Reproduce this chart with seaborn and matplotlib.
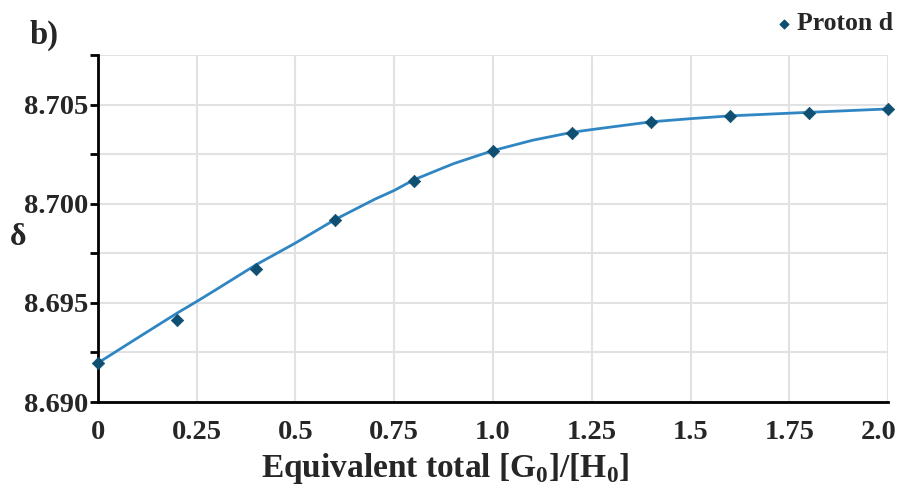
import matplotlib
matplotlib.use("Agg")
import matplotlib.pyplot as plt
import matplotlib.transforms as mtransforms
import seaborn as sns
import pandas as pd
from matplotlib.ticker import MultipleLocator, FixedLocator

# ---- data ----
eq_obs = [0.0, 0.2, 0.4, 0.6, 0.8, 1.0, 1.2, 1.4, 1.6, 1.8, 2.0]
delta_obs = [8.69197, 8.69414, 8.69672, 8.69919, 8.70116, 8.70268,
             8.70359, 8.70414, 8.70444, 8.70460, 8.70480]

eq_fit = [0.0, 0.1, 0.2, 0.25, 0.3, 0.4, 0.5, 0.6, 0.7, 0.75, 0.8, 0.9,
          1.0, 1.1, 1.2, 1.25, 1.4, 1.5, 1.6, 1.8, 2.0]
delta_fit = [8.69197, 8.69323, 8.69448, 8.69507, 8.69568, 8.69692, 8.69802,
             8.69920, 8.70022, 8.70067, 8.70121, 8.70202, 8.70268, 8.70320,
             8.70360, 8.70374, 8.70413, 8.70429, 8.70443, 8.70461, 8.70478]

x_ticks = [0, 0.25, 0.5, 0.75, 1.0, 1.25, 1.5, 1.75, 2.0]
x_tick_labels = ["0", "0.25", "0.5", "0.75", "1.0", "1.25", "1.5", "1.75", "2.0"]
y_ticks = [8.690, 8.695, 8.700, 8.705]
y_tick_labels = ["8.690", "8.695", "8.700", "8.705"]
series_name = "Proton d"

sns.set_theme(style="white")
plt.rcParams["font.family"] = ["Liberation Serif", "DejaVu Serif"]
plt.rcParams["font.weight"] = "bold"
plt.rcParams["mathtext.fontset"] = "custom"
plt.rcParams["mathtext.rm"] = "Liberation Serif:bold"
plt.rcParams["mathtext.bf"] = "Liberation Serif:bold"

fig = plt.figure(figsize=(9.03, 4.92), dpi=100)
ax = fig.add_axes([0.1085, 0.1829, 0.9834 - 0.1085, 0.8882 - 0.1829])

line_color = "#2f86c3"
marker_color = "#0f4f72"

df_fit = pd.DataFrame({"x": eq_fit, "y": delta_fit})
df_obs = pd.DataFrame({"x": eq_obs, "y": delta_obs})
sns.lineplot(data=df_fit, x="x", y="y", ax=ax, color=line_color, lw=2.0,
             zorder=3, legend=False)
sns.scatterplot(data=df_obs, x="x", y="y", ax=ax, color=marker_color,
                marker="D", s=40, edgecolor=marker_color, linewidth=0.5,
                zorder=4, legend=False, clip_on=False)

ax.set_xlim(0, 2.0)
ax.set_ylim(8.690, 8.7075)
ax.xaxis.set_major_locator(FixedLocator(x_ticks))
ax.set_xticklabels(x_tick_labels)
ax.yaxis.set_major_locator(FixedLocator(y_ticks))
ax.set_yticklabels(y_tick_labels)
ax.yaxis.set_minor_locator(MultipleLocator(0.0025))

ax.grid(True, which="both", axis="both", color="#e2e2e2", lw=1.5)
ax.set_axisbelow(True)

for s in ["top", "right"]:
    ax.spines[s].set_visible(False)
for s in ["left", "bottom"]:
    ax.spines[s].set_color("black")
    ax.spines[s].set_linewidth(2.0)

ax.tick_params(axis="x", which="major", direction="out", length=8, width=2,
               color="black", labelsize=20.5, pad=5)
ax.tick_params(axis="y", which="both", direction="out", length=6, width=2,
               color="black", labelsize=20.5, pad=1, left=True)
ax.tick_params(axis="x", which="minor", length=0)
for lab in ax.get_xticklabels() + ax.get_yticklabels():
    lab.set_fontweight("bold")

# keep the last x tick label inside the figure, as in the reference
last = ax.get_xticklabels()[-1]
last.set_transform(last.get_transform() +
                   mtransforms.ScaledTranslation(-9 / 100, 0, fig.dpi_scale_trans))

ax.set_xlabel("Equivalent total [G$_\\mathrm{0}$]/[H$_\\mathrm{0}$]",
              fontsize=24, fontweight="bold")
ax.xaxis.set_label_coords((445 - 98) / 790, -0.142)
ax.set_ylabel("")
fig.text(0.02, 0.518, "δ", fontsize=23, fontweight="bold", ha="center", va="center")
fig.text(0.033, 0.929, "b)", fontsize=23.5, fontweight="bold", ha="left", va="center")

# legend
ax.scatter([], [], marker="D", s=30, color=marker_color, label=series_name)
fig.legend(*ax.get_legend_handles_labels(), loc="center right",
           bbox_to_anchor=(893 / 903, 1 - 24 / 492), frameon=False,
           prop={"family": "Liberation Serif", "weight": "bold", "size": 18.5},
           handletextpad=0.0, borderaxespad=0, borderpad=0, markerscale=0.8,
           handlelength=1.0)

fig.savefig("out.png", dpi=100)
